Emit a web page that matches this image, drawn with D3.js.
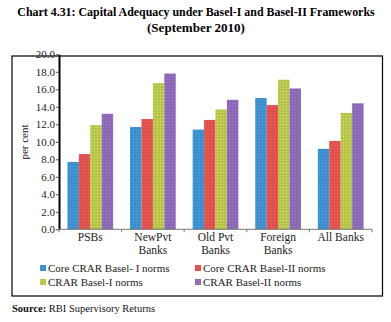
<!DOCTYPE html>
<html><head><meta charset="utf-8">
<script src="https://cdn.jsdelivr.net/npm/d3@7"></script>
<style>body{margin:0;background:#fff}svg{display:block}</style>
</head><body>
<script>
const categories = [["PSBs"], ["NewPvt", "Banks"], ["Old Pvt", "Banks"], ["Foreign", "Banks"], ["All Banks"]];
const seriesNames = ["Core CRAR Basel- I norms", "Core CRAR Basel-II norms", "CRAR Basel-I norms", "CRAR Basel-II norms"];
const coreBasel1 = [7.7, 11.7, 11.4, 15.0, 9.2];
const coreBasel2 = [8.6, 12.6, 12.5, 14.2, 10.1];
const crarBasel1 = [11.9, 16.7, 13.7, 17.1, 13.3];
const crarBasel2 = [13.2, 17.8, 14.8, 16.1, 14.4];
const yTicks = [0, 2, 4, 6, 8, 10, 12, 14, 16, 18, 20];
const colors = ["#3a8fcc", "#e0504c", "#b6c44c", "#8b68b5"];
const series = [coreBasel1, coreBasel2, crarBasel1, crarBasel2];

const W = 391, H = 322;
const font = "'Liberation Serif', 'Times New Roman', serif";
const svg = d3.select("body").append("svg").attr("width", W).attr("height", H);

function fit(sel, target) {
  const len = sel.node().getComputedTextLength();
  const fs = parseFloat(sel.attr("font-size"));
  sel.attr("font-size", fs * target / len);
}

// patterns
const defs = svg.append("defs");
colors.forEach((c, i) => {
  const p = defs.append("pattern").attr("id", "pat" + i).attr("patternUnits", "userSpaceOnUse")
    .attr("width", 3).attr("height", 3);
  p.append("rect").attr("width", 3).attr("height", 3).attr("fill", c);
  p.append("rect").attr("x", 1).attr("y", 1).attr("width", 1).attr("height", 1)
    .attr("fill", d3.color(c).brighter(0.5));
});

// title
const t1 = svg.append("text").attr("x", 196).attr("y", 16).attr("text-anchor", "middle")
  .attr("font-family", font).attr("font-weight", "bold").attr("font-size", 12)
  .text("Chart 4.31: Capital Adequacy under Basel-I and Basel-II Frameworks");
fit(t1, 358);
const t2 = svg.append("text").attr("x", 196).attr("y", 32).attr("text-anchor", "middle")
  .attr("font-family", font).attr("font-weight", "bold").attr("font-size", 12)
  .text("(September 2010)");
fit(t2, 98);

// frame
svg.append("rect").attr("x", 12).attr("y", 56).attr("width", 370.5).attr("height", 240)
  .attr("fill", "none").attr("stroke", "#000").attr("stroke-width", 1.2);

const x0 = d3.scaleBand().domain(d3.range(categories.length)).range([59, 372]).paddingInner(0.27).paddingOuter(0.135);
const x1 = d3.scaleBand().domain(d3.range(series.length)).range([0, x0.bandwidth()]);
const y = d3.scaleLinear().domain([0, 20]).range([229.3, 54.3]);

// bars
series.forEach((vals, si) => {
  svg.append("g").selectAll("rect").data(vals).join("rect")
    .attr("x", (d, i) => x0(i) + x1(si))
    .attr("y", d => y(d))
    .attr("width", x1.bandwidth())
    .attr("height", d => y(0) - y(d))
    .attr("fill", `url(#pat${si})`);
});

// y axis
const ya = svg.append("g").attr("transform", "translate(59,0)")
  .call(d3.axisLeft(y).tickValues(yTicks).tickFormat(d3.format(".1f")).tickSize(3).tickSizeOuter(0));
ya.select(".domain").attr("stroke", "#000").attr("stroke-width", 2);
ya.selectAll("text").attr("font-family", font).attr("font-size", 11).attr("fill", "#222").attr("x", -4);
ya.selectAll(".tick line").attr("stroke", "#555");

// x axis
const xa = d3.scaleLinear().domain([0, categories.length]).range([59, 372]);
const xg = svg.append("g").attr("transform", `translate(0,${y(0)})`);
xg.append("line").attr("x1", 59).attr("x2", 372).attr("stroke", "#777").attr("stroke-width", 1);
xg.selectAll("line.t").data(d3.range(categories.length + 1)).join("line").attr("class", "t")
  .attr("x1", d => xa(d)).attr("x2", d => xa(d)).attr("y1", 0).attr("y2", 3).attr("stroke", "#777");
categories.forEach((lines, i) => {
  const t = xg.append("text").attr("text-anchor", "middle").attr("font-family", font)
    .attr("font-size", 11.5).attr("fill", "#222");
  lines.forEach((l, j) => t.append("tspan").attr("x", x0(i) + x0.bandwidth() / 2).attr("y", 12 + j * 12.5).text(l));
});

// y label
svg.append("text").attr("transform", "translate(28,142) rotate(-90)").attr("text-anchor", "middle")
  .attr("font-family", font).attr("font-size", 11).attr("fill", "#222").text("per cent");

// legend
const legPos = [[40, 272], [195, 272], [40, 286], [195, 286]];
seriesNames.forEach((n, i) => {
  const [lx, ly] = legPos[i];
  svg.append("rect").attr("x", lx).attr("y", ly - 7).attr("width", 6).attr("height", 6).attr("fill", `url(#pat${i})`);
  svg.append("text").attr("x", lx + 8).attr("y", ly).attr("font-family", font).attr("font-size", 11)
    .attr("fill", "#222").text(n);
});

// source
const src = svg.append("text").attr("x", 12).attr("y", 312).attr("font-family", font).attr("font-size", 10.5).attr("fill", "#111");
src.append("tspan").attr("font-weight", "bold").text("Source: ");
src.append("tspan").text("RBI Supervisory Returns");
</script>
</body></html>
